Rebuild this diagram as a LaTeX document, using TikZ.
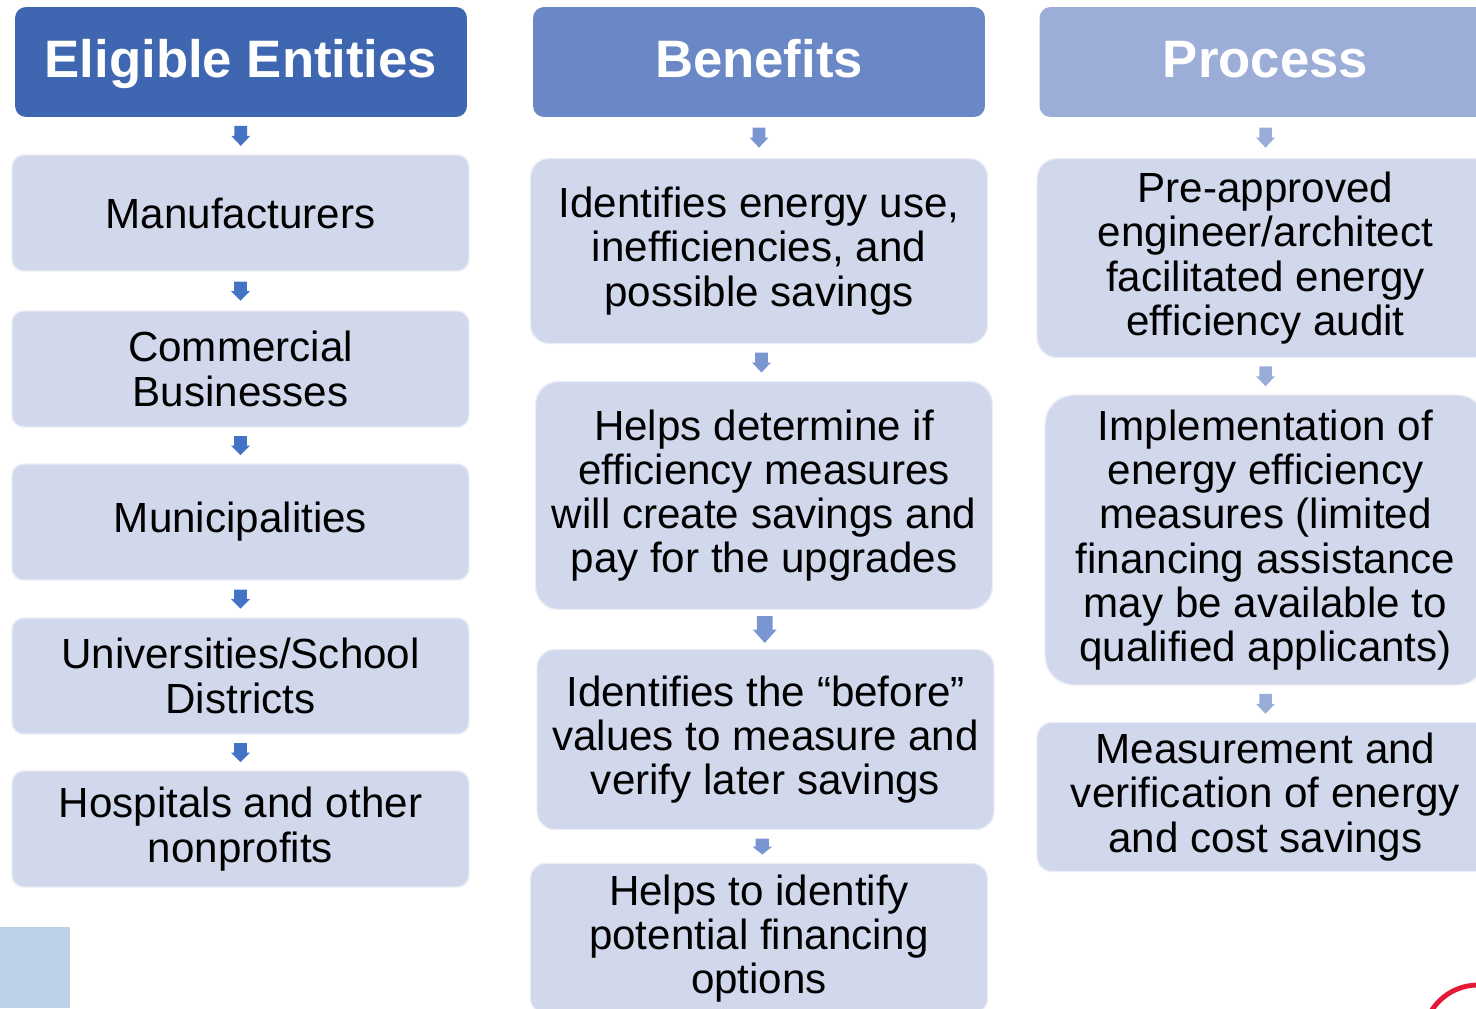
\documentclass[tikz,border=0pt]{standalone}
\usepackage{fontspec}
\setmainfont{Liberation Sans}
\usetikzlibrary{calc}
\definecolor{headA}{RGB}{63,103,177}
\definecolor{headB}{RGB}{106,136,198}
\definecolor{headC}{RGB}{156,173,216}
\definecolor{arrA}{RGB}{68,114,196}
\definecolor{arrB}{RGB}{122,150,208}
\definecolor{arrC}{RGB}{154,172,216}
\definecolor{boxfill}{RGB}{209,216,236}
\definecolor{cornerblue}{RGB}{188,210,230}
\definecolor{logored}{RGB}{227,25,55}
\begin{document}
\begin{tikzpicture}
    [x=0.02cm,y=-0.02cm,
     header/.style={fill=#1, text=white, inner sep=0pt, minimum width=9.04cm, minimum height=2.2cm, rounded corners=0.22cm, text height=22pt, text depth=4pt, font=\bfseries\fontsize{30}{36}\selectfont},
     entry/.style={fill=boxfill, draw=boxfill!45!white, line width=0.75pt, inner sep=0pt, align=center, minimum width=9.14cm, font=\fontsize{24}{25.2}\selectfont},
     downarrow/.pic={\path[pic actions] (-0.33,-0.5) -- (0.33,-0.5) -- (0.33,0) -- (0.5,0) -- (0,0.5) -- (-0.5,0) -- (-0.33,0) -- cycle;}]
  \clip (0,0) rectangle (1476,1008);
  \fill[cornerblue] (0,927) rectangle (70,1008);
  \draw[logored, line width=2.8pt] (1478,1040) circle (55);

  \node[header=headA] (h1) at (241,62) {Eligible Entities};
  \node[header=headB] (h2) at (759,62) {Benefits};
  \node[header=headC] (h3) at (1265.5,62) {Process};

  \node[entry, minimum height=2.32cm, rounded corners=0.23cm] (e1) at (240.5,213) {Manufacturers};
  \node[entry, minimum height=2.32cm, rounded corners=0.23cm] (e2) at (240.5,369) {Commercial\\Businesses};
  \node[entry, minimum height=2.32cm, rounded corners=0.23cm] (e3) at (240.5,522) {Municipalities};
  \node[entry, minimum height=2.32cm, rounded corners=0.23cm] (e4) at (240.5,676) {Universities/School\\Districts};
  \node[entry, minimum height=2.32cm, rounded corners=0.23cm] (e5) at (240.5,829) {Hospitals and other\\nonprofits};

  \node[entry, minimum height=3.7cm, rounded corners=0.37cm] (b1) at (759,251) {Identifies energy use,\\inefficiencies, and\\possible savings};
  \node[entry, minimum height=4.56cm, rounded corners=0.46cm] (b2) at (764,495.5) {Helps determine if\\efficiency measures\\will create savings and\\pay for the upgrades};
  \node[entry, minimum height=3.6cm, rounded corners=0.36cm] (b3) at (765.5,739.5) {Identifies the “before”\\values to measure and\\verify later savings};
  \node[entry, minimum height=3.0cm, rounded corners=0.3cm] (b4) at (759,938.5) {Helps to identify\\potential financing\\options};

  \node[entry, minimum height=3.98cm, rounded corners=0.4cm] (p1) at (1265.5,258) {Pre-approved\\engineer/architect\\facilitated energy\\efficiency audit};
  \node[entry, minimum width=8.82cm, minimum height=5.8cm, rounded corners=0.58cm] (p2) at (1265.5,540) {Implementation of\\energy efficiency\\measures (limited\\financing assistance\\may be available to\\qualified applicants)};
  \node[entry, minimum height=2.98cm, rounded corners=0.3cm] (p3) at (1265.5,797) {Measurement and\\verification of energy\\and cost savings};

  \foreach \from/\to/\c/\w/\l in {h1/e1/arrA/19/20, e1/e2/arrA/19/19, e2/e3/arrA/19/19, e3/e4/arrA/19/19, e4/e5/arrA/19/19,
      h2/b1/arrB/19/20, b1/b2/arrB/19/20, b2/b3/arrB/24/27, b3/b4/arrB/20/16,
      h3/p1/arrC/19/20, p1/p2/arrC/19/20, p2/p3/arrC/19/20}
    \pic[fill=\c, xscale=\w, yscale=\l] at ($(\from.south)!.5!(\to.north)$) {downarrow};
\end{tikzpicture}
\end{document}
